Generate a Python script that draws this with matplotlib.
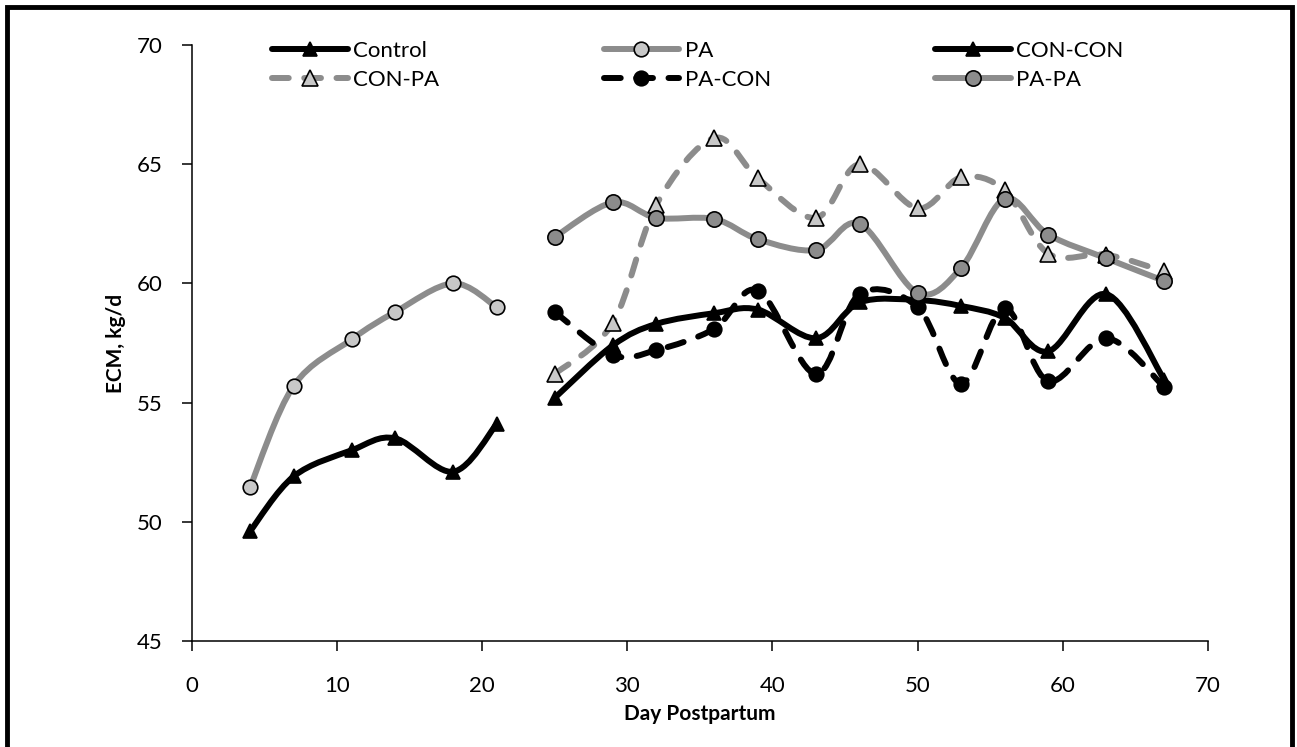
import matplotlib
matplotlib.use("Agg")
import matplotlib.pyplot as plt
from matplotlib.path import Path
from matplotlib.patches import PathPatch, Rectangle
from matplotlib.lines import Line2D

plt.rcParams['font.family'] = ['Lato', 'DejaVu Sans']

# phase 1 (d 4-21)
days1 = [4, 7, 11, 14, 18, 21]
control = [49.6, 51.9, 53.0, 53.5, 52.1, 54.1]
pa = [51.45, 55.7, 57.65, 58.8, 60.0, 59.0]

# phase 2 (d 25-67)
days2 = [25, 29, 32, 36, 39, 43, 46, 50, 53, 56, 59, 63, 67]
con_con = [55.2, 57.4, 58.3, 58.75, 58.9, 57.7, 59.2, 59.3, 59.05, 58.55, 57.15, 59.55, 55.95]
con_pa = [56.2, 58.35, 63.3, 66.1, 64.4, 62.75, 65.0, 63.15, 64.45, 63.9, 61.25, 61.2, 60.5]
pa_con = [58.8, 57.0, 57.2, 58.1, 59.7, 56.2, 59.55, 59.0, 55.8, 58.95, 55.9, 57.7, 55.65]
pa_pa = [61.95, 63.4, 62.75, 62.7, 61.85, 61.4, 62.5, 59.6, 60.65, 63.55, 62.05, 61.05, 60.1]

DARK = '#8c8c8c'
LIGHT = '#c8c8c8'


def smooth_path(x, y):
    # excel style smoothed line: cubic bezier through every point
    pts = list(zip(x, y))
    verts = [pts[0]]
    codes = [Path.MOVETO]
    n = len(pts)
    for i in range(n - 1):
        p0 = pts[i - 1] if i > 0 else pts[i]
        p1 = pts[i]
        p2 = pts[i + 1]
        p3 = pts[i + 2] if i + 2 < n else pts[i + 1]
        c1 = (p1[0] + (p2[0] - p0[0]) / 6, p1[1] + (p2[1] - p0[1]) / 6)
        c2 = (p2[0] - (p3[0] - p1[0]) / 6, p2[1] - (p3[1] - p1[1]) / 6)
        verts += [c1, c2, p2]
        codes += [Path.CURVE4] * 3
    return Path(verts, codes)


def draw(ax, x, y, color, ls, marker, mfc, ms, label):
    patch = PathPatch(smooth_path(x, y), fill=False, edgecolor=color, lw=4.3,
                      linestyle=ls, capstyle='round', joinstyle='round', zorder=2)
    ax.add_patch(patch)
    ax.plot(x, y, linestyle='none', marker=marker, ms=ms, mfc=mfc,
            mec='black', mew=1.2, zorder=3)
    return Line2D([], [], color=color, lw=4.3, linestyle=ls, marker=marker,
                  ms=ms, mfc=mfc, mec='black', mew=1.2,
                  solid_capstyle='round', dash_capstyle='round', label=label)


fig = plt.figure(figsize=(12.97, 7.47), dpi=100)
ax = fig.add_axes([0.148, 0.1419, 0.7833, 0.7979])

dash = (0, (2.8, 2.6))
h_control = draw(ax, days1, control, 'black', 'solid', '^', 'black', 10, 'Control')
h_pa = draw(ax, days1, pa, DARK, 'solid', 'o', LIGHT, 10.5, 'PA')
h_cc = draw(ax, days2, con_con, 'black', 'solid', '^', 'black', 10, 'CON-CON')
h_cp = draw(ax, days2, con_pa, DARK, dash, '^', LIGHT, 11, 'CON-PA')
h_pc = draw(ax, days2, pa_con, 'black', dash, 'o', 'black', 10.5, 'PA-CON')
h_pp = draw(ax, days2, pa_pa, DARK, 'solid', 'o', DARK, 11, 'PA-PA')

ax.set_xlim(0, 70)
ax.set_ylim(45, 70)
ax.set_xticks(range(0, 71, 10))
ax.set_yticks(range(45, 71, 5))
for s in ['top', 'right']:
    ax.spines[s].set_visible(False)
for s in ['left', 'bottom']:
    ax.spines[s].set_linewidth(1.1)
ax.tick_params(direction='out', length=7, width=1.1, labelsize=16, colors='black')
ax.tick_params(axis='x', pad=18)
ax.tick_params(axis='y', pad=14)
ax.set_xlabel('Day Postpartum', fontsize=15, fontweight='bold', labelpad=6)
ax.set_ylabel('ECM, kg/d', fontsize=15, fontweight='bold', labelpad=8)

# ncol=3 fills by column
handles = [h_control, h_cp, h_pa, h_pc, h_cc, h_pp]
ax.legend(handles=handles, ncol=3, frameon=False, fontsize=16,
          loc='upper left', bbox_to_anchor=(0.07, 1.022),
          handlelength=3.4, handletextpad=0.25, columnspacing=7.4,
          labelspacing=0.4, borderaxespad=0)

# outer frame
fig.patches.append(Rectangle((7 / 1297, -0.1), 1285 / 1297, 1.1 - 7 / 747,
                             transform=fig.transFigure, fill=False,
                             edgecolor='black', lw=3.5, zorder=0))

fig.savefig('out.png', dpi=100, facecolor='white')
